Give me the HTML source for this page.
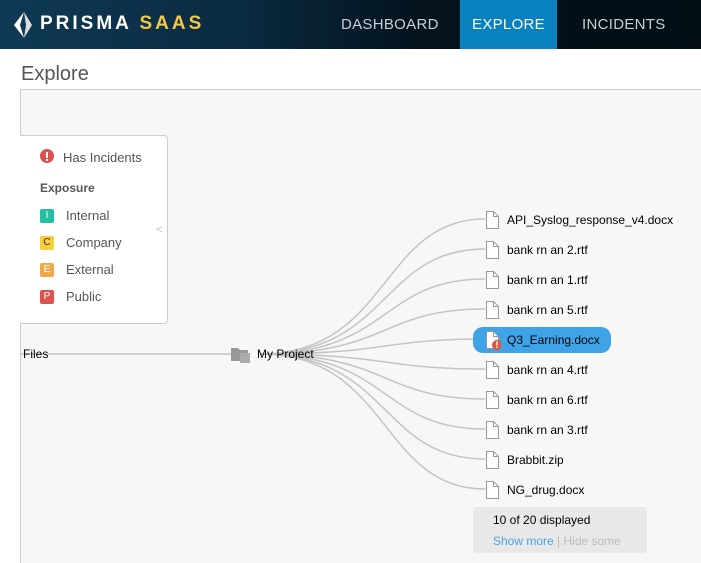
<!DOCTYPE html>
<html><head><meta charset="utf-8"><style>
*{margin:0;padding:0;box-sizing:border-box}
html,body{width:701px;height:563px;overflow:hidden}
body{background:#fff;font-family:"Liberation Sans",sans-serif;position:relative}
.hdr{position:absolute;left:0;top:0;width:701px;height:49px;background:linear-gradient(90deg,#0f3a55 0%,#0a2a40 35%,#03121c 60%,#020d14 100%)}
.logo{position:absolute;left:40px;top:13px;color:#fff;font-size:19px;font-weight:bold;letter-spacing:3px}
.logo span{color:#f4c842}
.nav{position:absolute;top:0;height:49px;line-height:49px;color:#c9ced2;font-size:15px;letter-spacing:.3px}
.panel{position:absolute;left:20px;top:89px;width:690px;height:474px;background:#f7f7f7;border:1px solid #ccc;border-bottom:none}
.leg{position:absolute;left:20px;top:135px;width:148px;height:189px;background:#fff;border:1px solid #ccc;border-left:none;border-radius:0 4px 4px 0;font-size:13px;color:#555}
.b{position:absolute;left:20px;width:14px;height:14px;border-radius:2px;color:#fff;font-size:10px;text-align:center;line-height:14px}
.l{position:absolute;left:46px}
.t{position:absolute;font-size:12px;color:#000}
</style></head><body>
<div class="hdr">
<svg style="position:absolute;left:14px;top:12px" width="20" height="26"><polygon points="10,0 0,13 10,26 6,13" fill="#fff"/><polygon points="10,0 12,13 10,26 18,13" fill="#ddd"/></svg>
<div class="logo">PRISMA <span>SAAS</span></div>
<div class="nav" style="left:341px">DASHBOARD</div>
<div class="nav" style="left:460px;width:97px;background:#0882bf;color:#fff;text-align:center">EXPLORE</div>
<div class="nav" style="left:582px">INCIDENTS</div>
</div>
<div style="position:absolute;left:21px;top:63px;font-size:20px;color:#555">Explore</div>
<div class="panel"></div>
<svg style="position:absolute;left:0;top:0" width="701" height="563" fill="none" stroke="#c4c4c4" stroke-width="1.5">
<line x1="20" y1="354" x2="235" y2="354"/>
<path d="M260 354 C390 354 380 219 485 219"/><path d="M260 354 C390 354 380 249 485 249"/>
<path d="M260 354 C390 354 380 279 485 279"/><path d="M260 354 C390 354 380 309 485 309"/>
<path d="M260 354 C390 354 380 339 485 339"/><path d="M260 354 C390 354 380 369 485 369"/>
<path d="M260 354 C390 354 380 399 485 399"/><path d="M260 354 C390 354 380 429 485 429"/>
<path d="M260 354 C390 354 380 459 485 459"/><path d="M260 354 C390 354 380 489 485 489"/>
</svg>
<div class="leg">
<svg style="position:absolute;left:20px;top:13px" width="14" height="14"><circle cx="7" cy="7" r="7" fill="#d9534f"/><rect x="6" y="3" width="2" height="6" fill="#fff"/><rect x="6" y="10" width="2" height="2" fill="#fff"/></svg>
<div class="l" style="left:43px;top:14px">Has Incidents</div>
<div style="position:absolute;left:20px;top:45px;font-weight:bold;font-size:12px;color:#555">Exposure</div>
<div class="b" style="top:73px;background:#26c0a0">I</div><div class="l" style="top:72px">Internal</div>
<div class="b" style="top:100px;background:#f7cf3c;color:#333">C</div><div class="l" style="top:99px">Company</div>
<div class="b" style="top:127px;background:#f0a94a">E</div><div class="l" style="top:126px">External</div>
<div class="b" style="top:154px;background:#d9534f">P</div><div class="l" style="top:153px">Public</div>
<div style="position:absolute;left:136px;top:88px;color:#bbb;font-size:11px">&lt;</div>
</div>
<div class="t" style="left:23px;top:347px">Files</div>
<svg style="position:absolute;left:230px;top:346px" width="22" height="18"><path d="M1 2h7l2 2h8v11H1z" fill="#999"/><rect x="10" y="7" width="10" height="10" fill="#aaa"/></svg>
<div class="t" style="left:257px;top:347px">My Project</div>
<div style="position:absolute;left:473px;top:327px;width:138px;height:26px;background:#3fa3e8;border-radius:10px"></div>
<div style="position:absolute;left:473px;top:507px;width:174px;height:46px;background:#e8e8e8;border-radius:3px"></div>
<div class="t" style="left:493px;top:513px">10 of 20 displayed</div>
<div class="t" style="left:493px;top:534px;color:#4aa3e8">Show more<span style="color:#bbb"> | Hide some</span></div>
<div id="files"></div>
<script>
var n=["API_Syslog_response_v4.docx","bank rn an 2.rtf","bank rn an 1.rtf","bank rn an 5.rtf","Q3_Earning.docx","bank rn an 4.rtf","bank rn an 6.rtf","bank rn an 3.rtf","Brabbit.zip","NG_drug.docx"],h="";
n.forEach(function(s,i){var y=219+30*i;h+='<svg style="position:absolute;left:485px;top:'+(y-9)+'px" width="16" height="20"><path d="M1.5 1.5h7l5 5v12h-12z" fill="#fff" stroke="#999"/><path d="M8.5 1.5v5h5" fill="none" stroke="#999"/>'+(i==4?'<circle cx="12" cy="15" r="5" fill="#e5533c"/><rect x="11.3" y="11.5" width="1.4" height="4" fill="#fff"/><rect x="11.3" y="16.5" width="1.4" height="1.4" fill="#fff"/>':'')+'</svg><div class="t" style="left:507px;top:'+(y-6)+'px">'+s+'</div>';});
document.getElementById("files").innerHTML=h;
</script>
</body></html>
